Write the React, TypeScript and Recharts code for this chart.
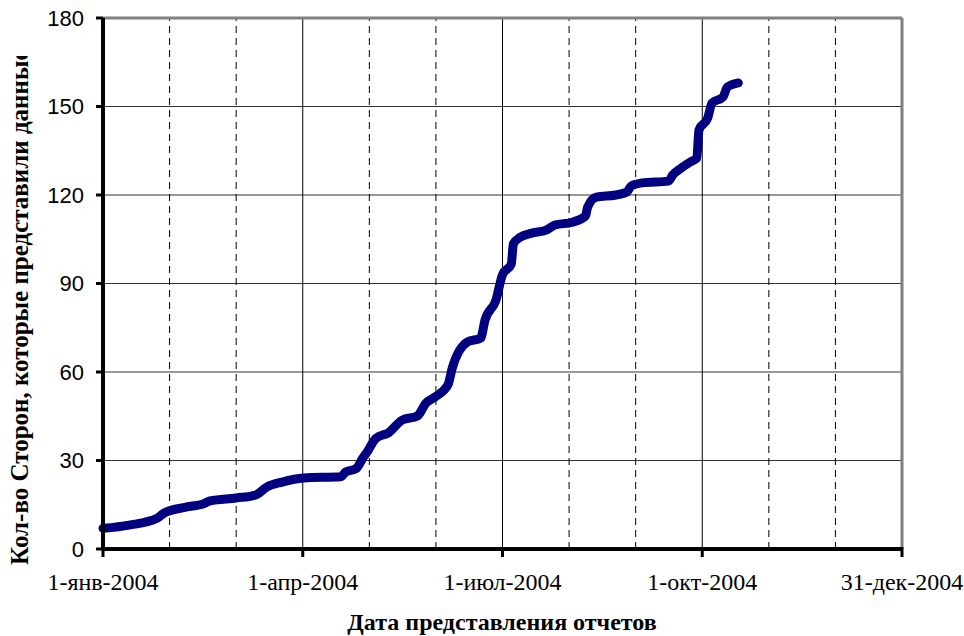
import React from "react";
import { LineChart, Line, XAxis, YAxis, ReferenceLine, CartesianGrid } from "recharts";

// day of year 2004 (0 = 1 Jan) and number of Parties that submitted data
const days = [0, 12, 25, 28, 38, 46, 49, 61, 70, 75, 82, 92, 109, 111, 116, 119, 121, 125, 131, 137, 144, 148, 152, 158, 160, 167, 173, 175, 180, 183, 187, 188, 191, 196, 203, 207, 215, 221, 222, 226, 235, 240, 242, 247, 259, 261, 265, 269, 272, 273, 277, 279, 284, 286, 291];
const parties = [7, 8.1, 10.5, 12.2, 14.2, 15.3, 16.3, 17.3, 18.3, 21, 22.7, 24.1, 24.5, 26, 27.3, 30.8, 32.9, 37.5, 39.5, 43.7, 45.1, 49.5, 51.5, 55.6, 61.4, 70.2, 71.5, 77.6, 84.4, 93, 96.5, 103.5, 105.6, 107, 108.1, 109.8, 110.8, 112.9, 115.9, 119.3, 120, 121, 123.1, 124.1, 124.7, 126.8, 129.2, 131.2, 132.5, 142, 146.1, 151.2, 153.2, 156.6, 158];

const gridDays = [0, 30.5, 61, 91.5, 122, 152.5, 183, 213.5, 244, 274.5, 305, 335.5, 366];
const majorLabels = ["1-янв-2004", "1-апр-2004", "1-июл-2004", "1-окт-2004", "31-дек-2004"];
const yTicks = [0, 30, 60, 90, 120, 150, 180];

const yTitle = "Кол-во Сторон, которые представили данные";
const xTitle = "Дата представления отчетов";

const data = days.map((d, i) => ({ day: d, value: parties[i] }));

const XTick = (props: any) => {
  const { x, y, payload } = props;
  const i = gridDays.indexOf(payload.value);
  if (i % 3 !== 0) return null;
  const label = majorLabels[i / 3];
  return (
    <g>
      <line x1={x} x2={x} y1={y - 2} y2={y + 8} stroke="#000" strokeWidth={3} />
      <text x={x} y={y + 41} textAnchor="middle" fontFamily="'Liberation Serif', 'Times New Roman', serif" fontSize={24} fill="#000">
        {label}
      </text>
    </g>
  );
};

const CLIP_TOP = 56;

export default function App() {
  return (
    <div style={{ width: 964, height: 636, position: "relative", background: "#fff" }}>
      <style>{`body{margin:0}`}</style>
      <LineChart width={964} height={636} data={data} margin={{ top: 18, right: 62, left: 0, bottom: 0 }}>
        <CartesianGrid vertical={false} stroke="#333" strokeWidth={1} />
        {gridDays.slice(1, -1).map((d, i) => (
          <ReferenceLine
            key={"g" + d}
            x={d}
            stroke="#000"
            strokeWidth={1}
            strokeDasharray={(i + 1) % 3 === 0 ? undefined : "7 5"}
          />
        ))}
        <ReferenceLine y={180} stroke="#808080" strokeWidth={3} />
        <ReferenceLine x={366} stroke="#808080" strokeWidth={3} />
        <XAxis
          dataKey="day"
          type="number"
          domain={[0, 366]}
          ticks={gridDays}
          interval={0}
          height={87}
          tickSize={0}
          tickMargin={0}
          tickLine={false}
          axisLine={{ stroke: "#000", strokeWidth: 4 }}
          tick={<XTick />}
        />
        <YAxis
          type="number"
          domain={[0, 180]}
          ticks={yTicks}
          interval={0}
          width={103}
          tickSize={7}
          tickMargin={12}
          tickLine={{ stroke: "#000", strokeWidth: 3 }}
          axisLine={{ stroke: "#000", strokeWidth: 4 }}
          tick={{ fill: "#000", fontSize: 22, fontFamily: "'Liberation Sans', Arial, sans-serif" }}
        />
        <Line
          type="monotone"
          dataKey="value"
          stroke="#000080"
          strokeWidth={9}
          dot={false}
          strokeLinecap="round"
          strokeLinejoin="round"
          isAnimationActive={false}
        />
        <text
          x={502}
          y={630}
          textAnchor="middle"
          fontFamily="'Liberation Serif', 'Times New Roman', serif"
          fontWeight="bold"
          fontSize={24}
          fill="#000"
        >
          {xTitle}
        </text>
      </LineChart>
      <div style={{ position: "absolute", left: 0, top: CLIP_TOP, width: 60, height: 580 - CLIP_TOP, overflow: "hidden" }}>
        <svg width={60} height={580 - CLIP_TOP} style={{ display: "block" }}>
          <text
            x={28}
            y={565 - CLIP_TOP}
            transform={`rotate(-90, 28, ${565 - CLIP_TOP})`}
            textAnchor="start"
            fontFamily="'Liberation Serif', 'Times New Roman', serif"
            fontWeight="bold"
            fontSize={25}
            fill="#000"
          >
            {yTitle}
          </text>
        </svg>
      </div>
    </div>
  );
}
